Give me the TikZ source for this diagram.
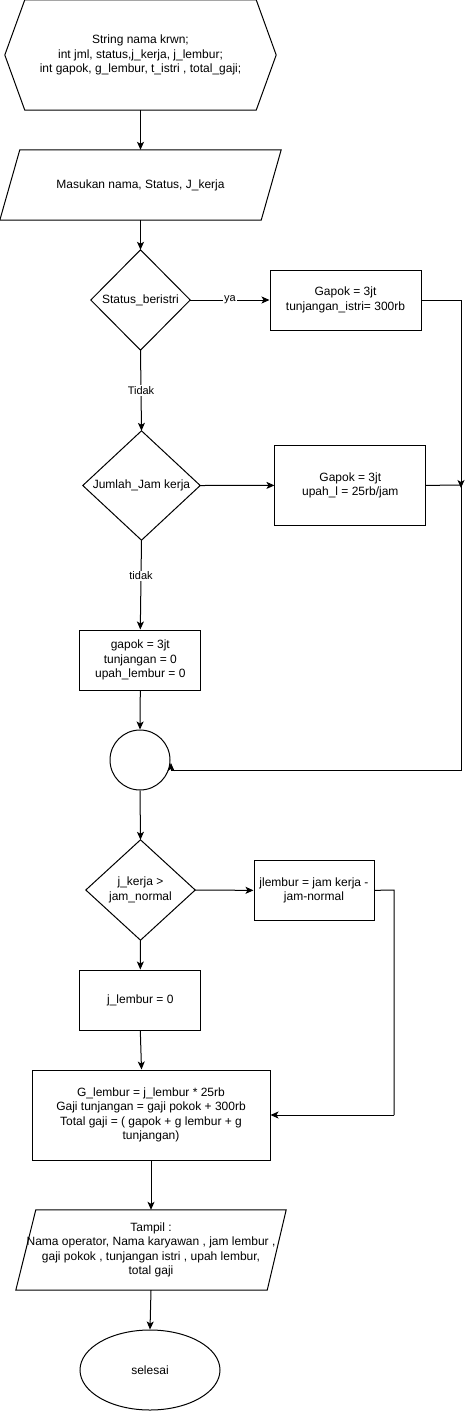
\documentclass[tikz,border=0pt]{standalone}
\usepackage{fontspec}
\setmainfont{Liberation Sans}
\usetikzlibrary{arrows.meta,shapes.geometric}
\tikzset{
  base/.style={line width=1pt, draw=black},
  boxnode/.style={rectangle, inner sep=0pt, align=center, font=\fontsize{12}{14.4}\selectfont},
  procbox/.style={boxnode, draw, line width=1pt},
  arr/.style={line width=1pt, -{Stealth[length=8pt,width=7pt,inset=2pt]}},
  lbl/.style={fill=white, inner sep=1pt, font=\fontsize{11}{13}\selectfont}
}
\begin{document}
\begin{tikzpicture}[x=1pt,y=-1pt]
\useasboundingbox (0,0) rectangle (470,1411);
\fill[white] (0,0) rectangle (470,1411);

% hexagon (declarations)
\node[boxnode, minimum width=271pt, minimum height=110pt] (hex) at (140.5,55)
  {String nama krwn;\\int jml, status,j\_kerja, j\_lembur;\\int gapok, g\_lembur, t\_istri , total\_gaji;};
\draw[base] ([xshift=20pt]hex.north west) -- ([xshift=-20pt]hex.north east) -- (hex.east)
  -- ([xshift=-20pt]hex.south east) -- ([xshift=20pt]hex.south west) -- (hex.west) -- cycle;

% input parallelogram
\node[boxnode, minimum width=281pt, minimum height=70pt] (in1) at (140.5,185)
  {Masukan nama, Status, J\_kerja};
\draw[base] ([xshift=20pt]in1.north west) -- (in1.north east) -- ([xshift=-20pt]in1.south east)
  -- (in1.south west) -- cycle;

% decision 1
\node[boxnode, minimum width=99pt, minimum height=100pt] (d1) at (140.5,300) {Status\_beristri};
\draw[base] (d1.north) -- (d1.east) -- (d1.south) -- (d1.west) -- cycle;

% box 1
\node[procbox, minimum width=151pt, minimum height=60pt] (b1) at (345.5,300)
  {Gapok = 3jt\\tunjangan\_istri= 300rb};

% decision 2
\node[boxnode, minimum width=117pt, minimum height=109pt] (d2) at (141.5,485.5) {Jumlah\_Jam kerja};
\draw[base] (d2.north) -- (d2.east) -- (d2.south) -- (d2.west) -- cycle;

% box 2
\node[procbox, minimum width=150.7pt, minimum height=79.3pt] (b2) at (350.3,485.4)
  {Gapok = 3jt\\upah\_l = 25rb/jam};

% box 3
\node[procbox, minimum width=120.7pt, minimum height=60pt] (b3) at (140.3,660)
  {gapok = 3jt\\tunjangan = 0\\upah\_lembur = 0};

% connector circle
\node[circle, draw, line width=1pt, minimum size=60pt, inner sep=0pt] (c) at (140,760) {};

% decision 3
\node[boxnode, minimum width=109pt, minimum height=100pt] (d3) at (140.5,890) {j\_kerja \textgreater\\jam\_normal};
\draw[base] (d3.north) -- (d3.east) -- (d3.south) -- (d3.west) -- cycle;

% box 4
\node[procbox, minimum width=120pt, minimum height=59.3pt] (b4) at (314,890.35)
  {jlembur = jam kerja -\\jam-normal};

% box 5
\node[procbox, minimum width=120.7pt, minimum height=60pt] (b5) at (140.3,1000)
  {j\_lembur = 0};

% box 6
\node[procbox, minimum width=238pt, minimum height=90pt] (b6) at (151,1115)
  {G\_lembur = j\_lembur * 25rb\\Gaji tunjangan = gaji pokok + 300rb\\Total gaji = ( gapok + g lembur + g\\tunjangan)};

% output parallelogram
\node[boxnode, minimum width=270pt, minimum height=80pt] (out) at (151,1250)
  {Tampil :\\Nama operator, Nama karyawan , jam lembur ,\\gaji pokok , tunjangan istri , upah lembur,\\total gaji};
\draw[base] ([xshift=20pt]out.north west) -- (out.north east) -- ([xshift=-19pt]out.south east)
  -- (out.south west) -- cycle;

% terminator
\node[ellipse, draw, line width=1pt, minimum width=140pt, minimum height=80pt, inner sep=0pt,
  font=\fontsize{12}{14.4}\selectfont] (end) at (150,1370) {selesai};

% helper coordinates
\coordinate (r1) at (461,300);
\coordinate (r2) at (461,485);
\coordinate (r3) at (461,770);
\coordinate (cl) at (171,770);
\coordinate (cu) at (171,763);
\coordinate (q1) at (394,890);
\coordinate (q2) at (394,1115);

% connectors
\draw[arr] (hex.south) -- (in1.north);
\draw[arr] (in1.south) -- (d1.north);
\draw[arr] (d1.east) -- node[lbl, pos=0.5] {ya} (b1.west);
\draw[base] (b1.east) -- (r1) -- (r3) -- (cl);
\draw[arr] (cl) -- (cu);
\draw[arr] (d1.south) -- node[lbl, pos=0.5] {Tidak} (d2.north);
\draw[arr] (d2.east) -- (b2.west);
\draw[base] (b2.east) -- (r2);
\draw[arr] ([yshift=3pt]r2) -- ([yshift=-3pt]r2);
\draw[arr] (d2.south) -- node[lbl, pos=0.4] {tidak} (b3.north);
\draw[arr] (b3.south) -- (c.north);
\draw[arr] (c.south) -- (d3.north);
\draw[arr] (d3.east) -- (b4.west);
\draw[base] (b4.east) -- (q1) -- (q2);
\draw[arr] (q2) -- (b6.east);
\draw[arr] (d3.south) -- (b5.north);
\draw[arr] (b5.south) -- ([xshift=-9.5pt]b6.north);
\draw[arr] (b6.south) -- (out.north);
\draw[arr] (out.south) -- (end.north);
\end{tikzpicture}
\end{document}
